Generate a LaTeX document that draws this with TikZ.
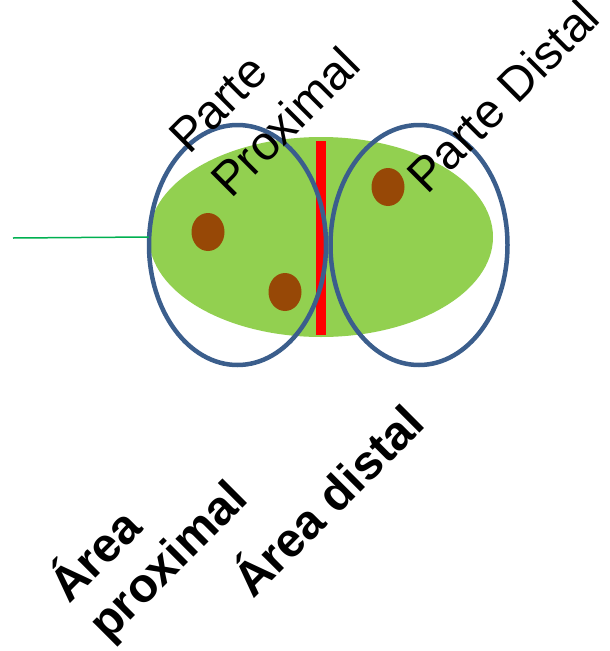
\documentclass[tikz,border=0pt]{standalone}
\usepackage{fontspec}
\setmainfont{Liberation Sans}
\usetikzlibrary{shapes.geometric}
\definecolor{bodygreen}{HTML}{92D050}
\definecolor{cellblue}{HTML}{3B5E8C}
\definecolor{dotbrown}{HTML}{974806}
\definecolor{linegreen}{HTML}{00B050}
\definecolor{barred}{HTML}{FF0000}
\tikzset{
  body/.style={ellipse, fill=bodygreen, draw=none, inner sep=0pt, minimum width=344pt, minimum height=200pt},
  cell/.style={ellipse, draw=cellblue, line width=4.5pt, inner sep=0pt, minimum width=177pt, minimum height=240pt},
  dot/.style={ellipse, fill=dotbrown, draw=none, inner sep=0pt, minimum width=33pt, minimum height=38pt},
  divider/.style={rectangle, fill=barred, draw=none, inner sep=0pt, minimum width=10pt, minimum height=194pt},
  tail/.style={draw=linegreen, line width=1.5pt},
  lbl/.style={rotate=45, anchor=base west, inner sep=0pt, font=\fontsize{48}{56}\selectfont},
  blbl/.style={lbl, font=\fontsize{48}{56}\selectfont\bfseries}
}
\begin{document}
\begin{tikzpicture}[x=1pt, y=-1pt]
\useasboundingbox (0,0) rectangle (610,651);
\node[body] (bodyE) at (321,237) {};
\node[divider] (bar) at (321,238) {};
\node[dot] (d1) at (208,232) {};
\node[dot] (d2) at (285,292) {};
\node[dot] (d3) at (388,187) {};
\node[cell] (cellL) at (237.5,245) {};
\node[cell] (cellR) at (419,245) {};
\coordinate (tailend) at (13,238);
\draw[tail] (tailend) -- (bodyE.west);
\node[lbl] (pp1) at (189,156) {Parte};
\node[lbl] (pp2) at (231,200) {Proximal};
\node[lbl] (pd) at (427,196) {Parte Distal};
\node[blbl] (ap1) at (69,605) {Área};
\node[blbl] (ap2) at (108,643) {proximal};
\node[blbl] (ad) at (253,600) {Área distal};
\end{tikzpicture}
\end{document}
